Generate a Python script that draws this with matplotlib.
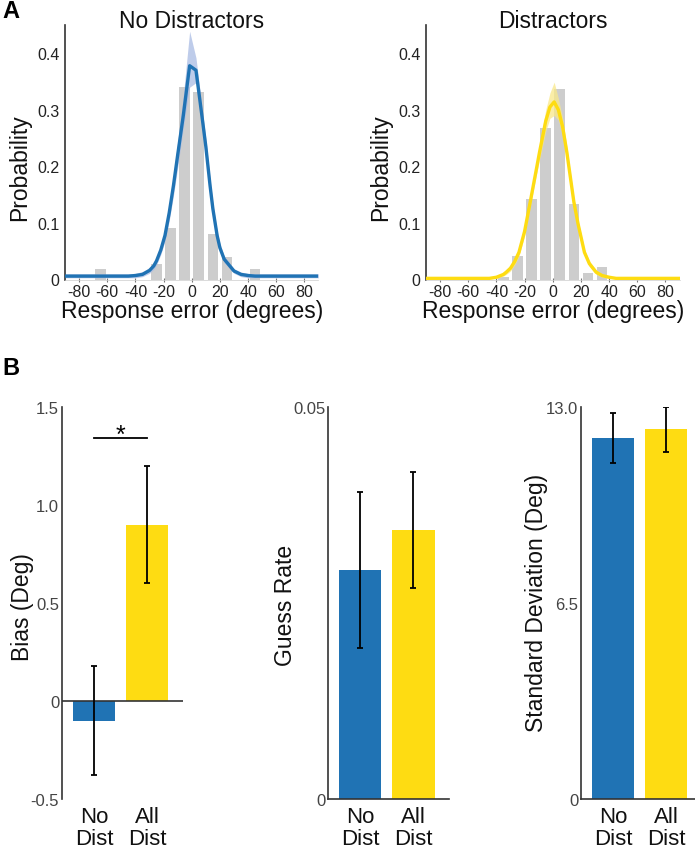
import numpy as np
import matplotlib
matplotlib.use('Agg')
import matplotlib.pyplot as plt

plt.rcParams['font.family'] = ['Liberation Sans', 'DejaVu Sans']
plt.rcParams['axes.unicode_minus'] = False

W, H = 695, 853

# ---- panel A data: histograms of response error ----
bin_centers = [-85, -75, -65, -55, -45, -35, -25, -15, -5, 5, 15, 25, 35, 45, 55, 65, 75, 85]
hist_nodist = [0, 0, 0.018, 0, 0, 0, 0.028, 0.091, 0.341, 0.331, 0.081, 0.039, 0, 0.018, 0, 0, 0, 0]
hist_dist = [0, 0, 0, 0, 0, 0.005, 0.042, 0.142, 0.268, 0.337, 0.133, 0.012, 0.022, 0, 0, 0, 0, 0]

# model fit curves
fit_x_nodist = [-90, -60, -45, -40, -35, -30, -27, -25, -22, -19, -16, -13, -10, -6, -1.5,
                3, 7.5, 10, 13, 15, 18, 20, 23, 27, 30, 35, 40, 45, 60, 90]
fit_nodist = [0.006, 0.006, 0.006, 0.007, 0.009, 0.016, 0.024, 0.033, 0.052, 0.078, 0.118, 0.166,
              0.22, 0.29, 0.378, 0.37, 0.284, 0.235, 0.166, 0.125, 0.078, 0.056, 0.036, 0.024,
              0.015, 0.009, 0.007, 0.006, 0.006, 0.006]
band_hi_nodist = [0.010, 0.010, 0.010, 0.011, 0.014, 0.021, 0.030, 0.040, 0.061, 0.089, 0.132, 0.184,
                  0.243, 0.325, 0.439, 0.392, 0.30, 0.249, 0.178, 0.135, 0.086, 0.063, 0.042, 0.029,
                  0.019, 0.013, 0.011, 0.010, 0.010, 0.010]
band_lo_nodist = [0.003, 0.003, 0.003, 0.003, 0.005, 0.011, 0.018, 0.026, 0.044, 0.068, 0.104, 0.148,
                  0.198, 0.268, 0.34, 0.348, 0.268, 0.221, 0.154, 0.115, 0.070, 0.049, 0.030, 0.019,
                  0.011, 0.005, 0.003, 0.003, 0.003, 0.003]

fit_x_dist = [-90, -60, -45, -40, -35, -33, -30, -27, -24, -20, -16, -12, -9.4, -5, -2, 1,
              4, 7, 10, 15, 18, 22.5, 26, 30.8, 35, 40, 45, 60, 90]
fit_dist = [0.002, 0.002, 0.002, 0.004, 0.009, 0.013, 0.02, 0.032, 0.048, 0.085, 0.137, 0.19,
            0.225, 0.28, 0.305, 0.314, 0.30, 0.27, 0.225, 0.137, 0.098, 0.048, 0.028, 0.013,
            0.007, 0.004, 0.002, 0.002, 0.002]
band_hi_dist = [0.004, 0.004, 0.004, 0.006, 0.012, 0.017, 0.025, 0.038, 0.055, 0.093, 0.146, 0.20,
                0.238, 0.30, 0.33, 0.349, 0.32, 0.285, 0.236, 0.145, 0.105, 0.054, 0.033, 0.017,
                0.010, 0.006, 0.004, 0.004, 0.004]
band_lo_dist = [0.001, 0.001, 0.001, 0.002, 0.006, 0.009, 0.015, 0.026, 0.041, 0.077, 0.128, 0.18,
                0.212, 0.262, 0.285, 0.29, 0.282, 0.255, 0.214, 0.129, 0.091, 0.042, 0.023, 0.009,
                0.004, 0.002, 0.001, 0.001, 0.001]

# ---- panel B data ----
conds = ['No\nDist', 'All\nDist']
bias = [-0.1, 0.9]
bias_err = [0.28, 0.30]
guess = [0.0292, 0.0343]
guess_err = [0.0099, 0.0074]
sd = [11.98, 12.26]
sd_err = [0.83, 0.75]

blue = '#2073b4'
yellow = '#fedc12'
gray_bar = '#cdcdcd'
spine_col = '#333333'


def ax_px(left, top, right, bottom):
    return fig.add_axes([left / W, 1 - bottom / H, (right - left) / W, (bottom - top) / H])


fig = plt.figure(figsize=(W / 100, H / 100), dpi=100)

top_axes = [
    (ax_px(65, 26, 318.5, 280.5), hist_nodist, fit_x_nodist, fit_nodist, band_lo_nodist,
     band_hi_nodist, blue, '#a9bbe4', 'No Distractors', 192),
    (ax_px(426, 26, 679.5, 280.5), hist_dist, fit_x_dist, fit_dist, band_lo_dist,
     band_hi_dist, yellow, '#f9e88a', 'Distractors', 553),
]
for ax, hist, fx, fy, blo, bhi, col, bcol, title, cx in top_axes:
    ax.bar(bin_centers, hist, width=7.6, color=gray_bar, zorder=1)
    ax.fill_between(fx, blo, bhi, color=bcol, alpha=0.75, lw=0, zorder=2)
    ax.plot(fx, fy, color=col, lw=2.4, zorder=3, solid_joinstyle='round')
    ax.set_xlim(-90, 90)
    ax.set_ylim(0, 0.45)
    ax.set_xticks(range(-80, 81, 20))
    ax.set_xticklabels([str(v) for v in range(-80, 81, 20)])
    ax.set_yticks([0, 0.1, 0.2, 0.3, 0.4])
    ax.set_yticklabels(['0', '0.1', '0.2', '0.3', '0.4'])
    for s in ['top', 'right']:
        ax.spines[s].set_visible(False)
    ax.spines['bottom'].set_color('#cccccc')
    ax.spines['bottom'].set_linewidth(0.5)
    ax.spines['left'].set_color(spine_col)
    ax.spines['left'].set_linewidth(1.2)
    ax.tick_params(axis='y', length=0, pad=4, labelsize=11.5, labelcolor='#222222')
    ax.tick_params(axis='x', length=3, direction='inout', color='#777777', width=0.8,
                   pad=2, labelsize=11.5, labelcolor='#222222')
    ax.set_xlabel('Response error (degrees)', fontsize=16.5, labelpad=0, color='#111111')
    fig.text(cx / W, 1 - 28 / H, title, ha='center', va='baseline', fontsize=16.5, color='#111111')

fig.text(20 / W, 1 - 168 / H, 'Probability', rotation=90, ha='center', va='center',
         fontsize=16.5, color='#111111')
fig.text(381 / W, 1 - 168 / H, 'Probability', rotation=90, ha='center', va='center',
         fontsize=16.5, color='#111111')

fig.text(2 / W, 1 - 18 / H, 'A', fontsize=17, fontweight='bold', va='baseline')
fig.text(2 / W, 1 - 375 / H, 'B', fontsize=17, fontweight='bold', va='baseline')

# ---- panel B ----
xpos = np.arange(len(conds))
bottom_specs = [
    (62, bias, bias_err, (-0.5, 1.5), [-0.5, 0, 0.5, 1.0, 1.5], ['-0.5', '0', '0.5', '1.0', '1.5'],
     'Bias (Deg)', 23, 607),
    (328.3, guess, guess_err, (0, 0.05), [0, 0.05], ['0', '0.05'], 'Guess Rate', 285, 605),
    (581, sd, sd_err, (0, 13.0), [0, 6.5, 13.0], ['0', '6.5', '13.0'],
     'Standard Deviation (Deg)', 537, 602.5),
]
for i, (left, vals, errs, ylim, yt, ytl, ylab, lx, ly) in enumerate(bottom_specs):
    ax = ax_px(left, 408, left + 121, 800)
    ax.bar(xpos, vals, width=0.8, color=[blue, yellow], zorder=1)
    ax.errorbar(xpos, vals, yerr=errs, fmt='none', ecolor='black', elinewidth=1.3,
                capsize=2, capthick=1.3, zorder=3)
    ax.set_xlim(-0.6, 1.675)
    ax.set_ylim(*ylim)
    ax.set_yticks(yt)
    ax.set_yticklabels(ytl)
    ax.set_xticks(xpos)
    ax.set_xticklabels(conds, linespacing=1.08)
    for s in ['top', 'right']:
        ax.spines[s].set_visible(False)
    ax.spines['left'].set_color(spine_col)
    ax.spines['left'].set_linewidth(1.2)
    ax.spines['bottom'].set_color(spine_col)
    ax.spines['bottom'].set_linewidth(1.2)
    ax.tick_params(axis='y', length=0, pad=2, labelsize=12, labelcolor='#444444')
    ax.tick_params(axis='x', length=0, pad=5, labelsize=16, labelcolor='#111111')
    if i == 0:
        ax.spines['bottom'].set_visible(False)
        ax.axhline(0, color=spine_col, lw=1.2, zorder=2)
        ax.plot([0, 1], [1.34, 1.34], color='black', lw=1.3)
        ax.text(0.5, 1.32, '*', ha='center', va='baseline', fontsize=18)
    fig.text(lx / W, 1 - ly / H, ylab, rotation=90, ha='center', va='center',
             fontsize=16.5, color='#111111')

fig.savefig('out.png', dpi=100)
